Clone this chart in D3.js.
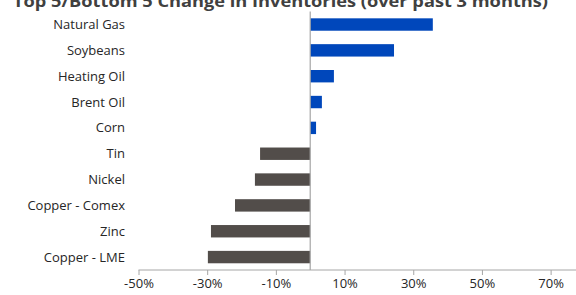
<!DOCTYPE html>
<html>
<head>
<meta charset="utf-8">
<script src="https://cdn.jsdelivr.net/npm/d3@7"></script>
<style>
  body { margin: 0; background: #fff; }
  svg { display: block; font-family: "Open Sans", sans-serif; }
  .label { font-size: 13px; fill: #262626; }
  .tick text { font-size: 13px; fill: #262626; }
</style>
</head>
<body>
<svg id="chart" width="576" height="295" viewBox="0 0 576 295"></svg>
<script>
// Change in inventories over past 3 months, %
const commodities = ["Natural Gas", "Soybeans", "Heating Oil", "Brent Oil", "Corn",
                     "Tin", "Nickel", "Copper - Comex", "Zinc", "Copper - LME"];
const changes = [35.7, 24.4, 6.9, 3.4, 1.7, -14.6, -16.1, -21.9, -28.9, -29.8];
const tickValues = [-50, -30, -10, 10, 30, 50, 70];

const svg = d3.select('#chart');

// Scales (axis runs past the right edge, like the original)
const x_scale = d3.scaleLinear()
    .domain([-50, 90])
    .range([138.5, 619.3]);
const y_scale = d3.scaleBand()
    .domain(commodities)
    .range([11.6, 270])
    .paddingInner(0.52)
    .paddingOuter(0.26);

// Title, clipped at the top
svg.append('text')
    .attr('x', 13)
    .attr('y', 7)
    .attr('font-size', 16.5)
    .attr('font-weight', 'bold')
    .attr('fill', '#404040')
    .attr('textLength', 535)
    .attr('lengthAdjust', 'spacingAndGlyphs')
    .text('Top 5/Bottom 5 Change in Inventories (over past 3 months)');

// Bars
svg.append('g')
    .selectAll('rect')
    .data(commodities)
    .enter()
    .append('rect')
    .attr('x', (d, i) => x_scale(Math.min(0, changes[i])))
    .attr('width', (d, i) => Math.abs(x_scale(changes[i]) - x_scale(0)))
    .attr('y', d => y_scale(d))
    .attr('height', y_scale.bandwidth())
    .attr('fill', (d, i) => changes[i] >= 0 ? '#0047bb' : '#524d4a');

// Zero line
svg.append('line')
    .attr('x1', x_scale(0)).attr('x2', x_scale(0))
    .attr('y1', 11.6).attr('y2', 270)
    .attr('stroke', '#a6a6a6')
    .attr('stroke-width', 1.2);

// Category labels
svg.append('g')
    .selectAll('text')
    .data(commodities)
    .enter()
    .append('text')
    .attr('class', 'label')
    .attr('x', 125)
    .attr('y', d => y_scale(d) + y_scale.bandwidth() / 2)
    .attr('dy', '0.35em')
    .attr('text-anchor', 'end')
    .text(d => d);

// X axis
const x_axis = d3.axisBottom(x_scale)
    .tickValues(tickValues)
    .tickSize(5)
    .tickSizeOuter(0)
    .tickPadding(4)
    .tickFormat(d => d + '%');
const gx = svg.append('g')
    .attr('transform', 'translate(0,270)')
    .call(x_axis);
gx.selectAll('.domain, .tick line').attr('stroke', '#a6a6a6');
gx.select('.domain').attr('d', 'M' + x_scale(-50) + ',0H' + x_scale(90));
gx.selectAll('.tick text').attr('font-family', '"Open Sans", sans-serif');
</script>
</body>
</html>
